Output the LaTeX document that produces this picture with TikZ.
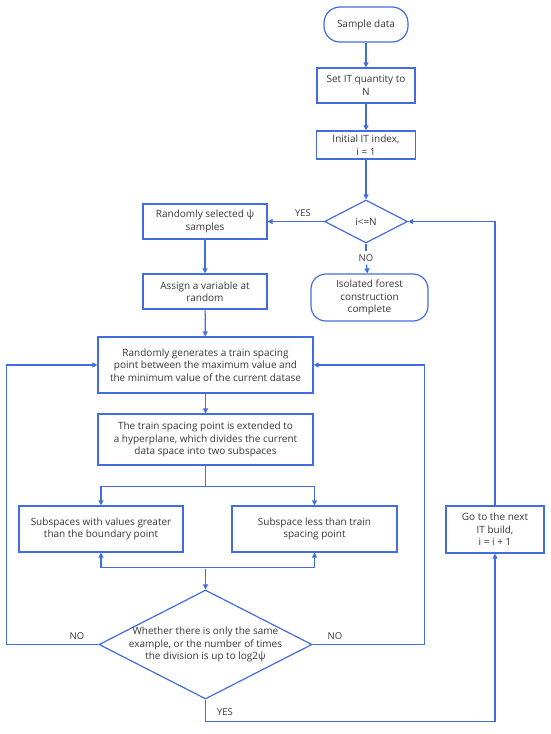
\documentclass[tikz,border=0pt]{standalone}
\usepackage{fontspec}
\setmainfont{Open Sans}
\usetikzlibrary{shapes.geometric,arrows.meta}
\definecolor{flowblue}{RGB}{66,108,226}
\definecolor{flowtext}{RGB}{55,55,55}
\begin{document}
\begin{tikzpicture}[
        x=1pt, y=-1pt,
        every node/.style={text=flowtext, font=\fontsize{10}{12.4}\selectfont, align=center, inner sep=0pt},
        box/.style={draw=flowblue, line width=1.2pt, rectangle},
        term/.style={draw=flowblue, line width=1.2pt, rectangle, rounded corners=16pt},
        decide/.style={draw=flowblue, line width=1.2pt, diamond, aspect=1.95, inner sep=-3pt},
        flow/.style={draw=flowblue, line width=1.2pt, -{Triangle[length=5pt,width=5pt]}},
        wire/.style={draw=flowblue, line width=1.2pt},
        tag/.style={font=\fontsize{9.5}{11}\selectfont},
    ]
    \useasboundingbox (0,0) rectangle (550,734);
    \node[term, minimum width=84pt, minimum height=35pt](start) at (366,24.5){Sample data};
    \node[box, minimum width=98pt, minimum height=35pt](setn) at (366,85.5){Set IT quantity to\\N};
    \node[box, minimum width=99pt, minimum height=28pt](init) at (366,145){Initial IT index,\\i = 1};
    \node[decide, minimum width=83pt, minimum height=43pt](cond) at (366,221.5){i<=N};
    \node[box, minimum width=124pt, minimum height=35pt](sel) at (205,221.5){Randomly selected ψ\\samples};
    \node[term, rounded corners=15pt, minimum width=117pt, minimum height=47pt](done) at (369.5,297.5){Isolated forest\\construction\\complete};
    \node[box, minimum width=124pt, minimum height=35pt](assign) at (205,291.5){Assign a variable at\\random};
    \node[box, minimum width=215pt, minimum height=56pt](gen) at (205.5,365){Randomly generates a train spacing\\point between the maximum value and\\the minimum value of the current datase};
    \node[box, minimum width=215pt, minimum height=51pt](split) at (205.5,439.5){The train spacing point is extended to\\a hyperplane, which divides the current\\data space into two subspaces};
    \node[box, minimum width=164pt, minimum height=46pt](big) at (101,529){Subspaces with values greater\\than the boundary point};
    \node[box, minimum width=165pt, minimum height=46pt](less) at (314.5,529){Subspace less than train\\spacing point};
    \node[decide, minimum width=213pt, minimum height=109pt](check) at (205.5,644.5){Whether there is only the same\\example, or the number of times\\the division is up to log2ψ};
    \node[box, minimum width=98pt, minimum height=47pt](next) at (495,529.5){Go to the next\\IT build,\\i = i + 1};
    \coordinate (merge) at (205.5,569);
    \node[tag](yes1) at (303,213){YES};
    \node[tag, inner ysep=3pt](no1) at (366,258){NO};
    \node[tag](no2) at (77,636){NO};
    \node[tag](no3) at (335,636){NO};
    \node[tag](yes2) at (225,712){YES};
    \draw[flow] (start) -- (setn);
    \draw[flow] (setn) -- (init);
    \draw[flow] (init) -- (cond);
    \draw[flow] (cond) -- (sel);
    \draw[wire] (cond) -- (no1);
    \draw[flow] (no1) -- (done);
    \draw[flow] (sel) -- (assign);
    \draw[flow] (assign) -- (gen);
    \draw[flow] (gen) -- (split);
    \draw[flow] (split.south) -- ++(0,21) -| (big.north);
    \draw[flow] (split.south) -- ++(0,21) -| (less.north);
    \draw[wire, {Triangle[length=5pt,width=5pt]}-{Triangle[length=5pt,width=5pt]}] (big.south) -- ++(0,15) -| (less.south);
    \draw[flow] (merge) -- (check.north);
    \draw[flow] (check.west) -- ++(-92,0) |- (gen.west);
    \draw[flow] (check.east) -- ++(112,0) |- (gen.east);
    \draw[flow] (check.south) -- ++(0,21.5) -| (next.south);
    \draw[flow] (next.north) |- (cond.east);
\end{tikzpicture}
\end{document}
